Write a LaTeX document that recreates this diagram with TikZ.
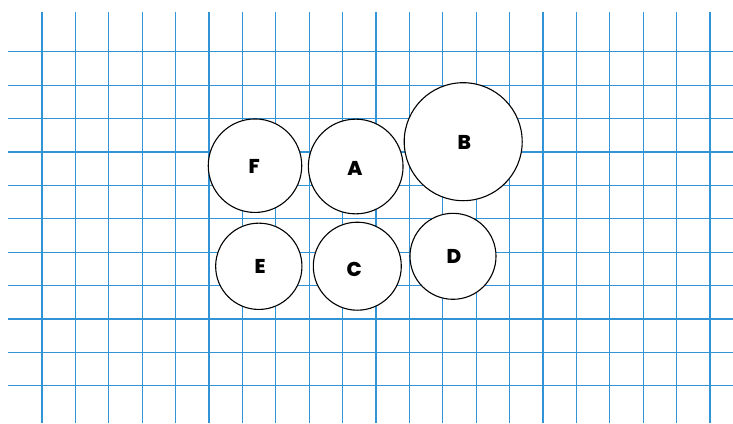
\documentclass[tikz,border=0pt]{standalone}
\usepackage{fontspec}
\setmainfont{Poppins}[BoldFont={Poppins ExtraBold}]
\definecolor{gridblue}{RGB}{48,148,215}
\begin{document}
\begin{tikzpicture}[x=1pt,y=-1pt,
  gridline/.style={draw=gridblue,line width=1.25pt},
  ball/.style={circle,draw=black,fill=white,line width=1.1pt,inner sep=0pt},
  lbl/.style={font=\fontsize{20}{24}\selectfont\bfseries}]
\useasboundingbox (0,0) rectangle (733,423);
\foreach \k in {0,...,20}{
  \draw[gridline] ({42+33.4*\k},12) -- ({42+33.4*\k},423);
}
\foreach \k in {0,...,10}{
  \draw[gridline] (8,{51.8+33.4*\k}) -- (733,{51.8+33.4*\k});
}
\node[ball,minimum size=93.5pt] (F) at (255,165.7) {};
\node[ball,minimum size=94.7pt] (A) at (355.7,166.5) {};
\node[ball,minimum size=118pt] (B) at (463.2,141.7) {};
\node[ball,minimum size=86.3pt] (E) at (258.8,266.3) {};
\node[ball,minimum size=88pt] (C) at (357.3,266.2) {};
\node[ball,minimum size=86pt] (D) at (453,256.3) {};
\node[lbl] (tF) at (254.3,166.7) {F};
\node[lbl] (tA) at (355,168.3) {A};
\node[lbl] (tB) at (464.3,142.3) {B};
\node[lbl] (tE) at (260,266) {E};
\node[lbl] (tC) at (354.3,269.7) {C};
\node[lbl] (tD) at (454,256) {D};
\end{tikzpicture}
\end{document}
